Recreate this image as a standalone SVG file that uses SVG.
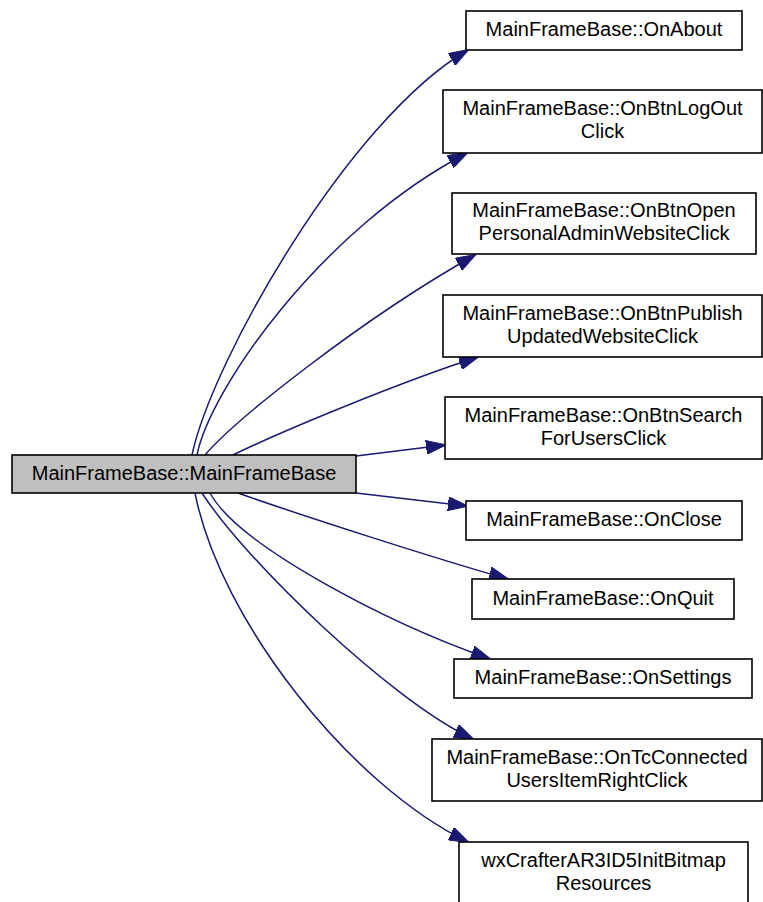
<svg xmlns="http://www.w3.org/2000/svg" width="763" height="902" viewBox="0 0 763 902">
  <style>
    .node rect { fill: #ffffff; stroke: #000000; stroke-width: 1.6; }
    .node.root rect { fill: #bfbfbf; }
    .node text { font-family: "Liberation Sans", Arial, Helvetica, sans-serif; font-size: 20px; fill: #000000; text-anchor: middle; }
    .edges path { fill: none; stroke: #191970; stroke-width: 1.5; marker-end: url(#arrow); }
  </style>
  <defs>
    <marker id="arrow" markerUnits="userSpaceOnUse" viewBox="0 0 20 14" markerWidth="20" markerHeight="14" refX="19" refY="7" orient="auto">
      <path d="M0,0 L20,7 L0,14 z" fill="#191970" stroke="#191970" stroke-width="1"/>
    </marker>
  </defs>
  <rect width="763" height="902" fill="#ffffff"/>

  <!-- call edges from MainFrameBase::MainFrameBase -->
  <g id="edges" class="edges">
    <path id="e-onabout" d="M192,455 C212,360 350,118 468,50"/>
    <path id="e-onbtnlogout" d="M197,455 C210,390 320,230 467,153"/>
    <path id="e-onbtnopen" d="M205,455 C235,420 360,320 475,255"/>
    <path id="e-onbtnpublish" d="M233,455 C280,432 400,382 478,357"/>
    <path id="e-onbtnsearch" d="M356,456 L445,445"/>
    <path id="e-onclose" d="M356,493 L467,506"/>
    <path id="e-onquit" d="M238,493 C300,515 440,560 508,579"/>
    <path id="e-onsettings" d="M210,493 C238,545 385,622 490,659"/>
    <path id="e-ontcconnected" d="M202,493 C245,560 390,700 473,739"/>
    <path id="e-wxcrafter" d="M195,493 C220,620 350,785 468,842"/>
  </g>

  <g id="n-mainframebase" class="node root">
    <rect x="12" y="455" width="344" height="38"/>
    <text x="184" y="480">MainFrameBase::MainFrameBase</text>
  </g>

  <g id="n-onabout" class="node">
    <rect x="466" y="11" width="276" height="39"/>
    <text x="604" y="36">MainFrameBase::OnAbout</text>
  </g>

  <g id="n-onbtnlogout" class="node">
    <rect x="443" y="90" width="319" height="63"/>
    <text x="602.5" y="115">MainFrameBase::OnBtnLogOut</text>
    <text x="602.5" y="138">Click</text>
  </g>

  <g id="n-onbtnopen" class="node">
    <rect x="452" y="193" width="304" height="61"/>
    <text x="604" y="217">MainFrameBase::OnBtnOpen</text>
    <text x="604" y="240">PersonalAdminWebsiteClick</text>
  </g>

  <g id="n-onbtnpublish" class="node">
    <rect x="443" y="295" width="319" height="62"/>
    <text x="602.5" y="319.5">MainFrameBase::OnBtnPublish</text>
    <text x="602.5" y="342.5">UpdatedWebsiteClick</text>
  </g>

  <g id="n-onbtnsearch" class="node">
    <rect x="445" y="397" width="317" height="62"/>
    <text x="603.5" y="421.5">MainFrameBase::OnBtnSearch</text>
    <text x="603.5" y="444.5">ForUsersClick</text>
  </g>

  <g id="n-onclose" class="node">
    <rect x="466" y="501" width="276" height="39"/>
    <text x="604" y="526">MainFrameBase::OnClose</text>
  </g>

  <g id="n-onquit" class="node">
    <rect x="472" y="579" width="262" height="40"/>
    <text x="603" y="604.5">MainFrameBase::OnQuit</text>
  </g>

  <g id="n-onsettings" class="node">
    <rect x="454" y="659" width="298" height="39"/>
    <text x="603" y="684">MainFrameBase::OnSettings</text>
  </g>

  <g id="n-ontcconnected" class="node">
    <rect x="432" y="739" width="330" height="62"/>
    <text x="597" y="763.5">MainFrameBase::OnTcConnected</text>
    <text x="597" y="786.5">UsersItemRightClick</text>
  </g>

  <g id="n-wxcrafter" class="node">
    <rect x="459" y="842" width="289" height="62"/>
    <text x="603.5" y="866.5">wxCrafterAR3ID5InitBitmap</text>
    <text x="603.5" y="889.5">Resources</text>
  </g>
</svg>
